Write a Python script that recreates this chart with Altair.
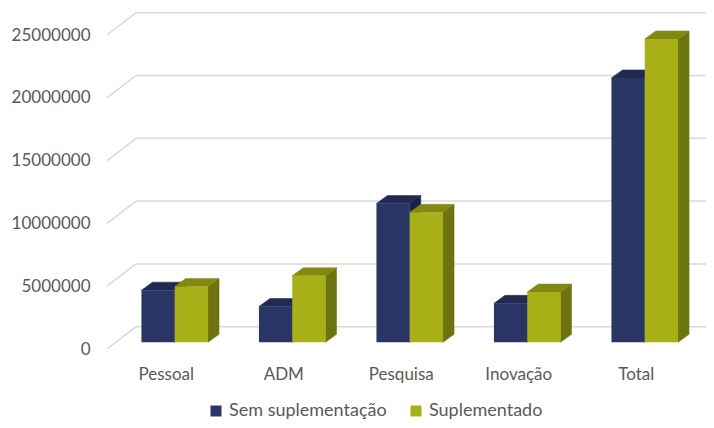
import json
import altair as alt
import pandas as pd

# ---------------- data ----------------
categories = ["Pessoal", "ADM", "Pesquisa", "Inovação", "Total"]
series_names = ["Sem suplementação", "Suplementado"]
sem_suplementacao = [4150000, 2850000, 11050000, 3100000, 21050000]
suplementado = [4450000, 5300000, 10350000, 4000000, 24150000]
y_ticks = [0, 5000000, 10000000, 15000000, 20000000, 25000000]

# ---------------- style / geometry ----------------
NAVY, NAVY_TOP, NAVY_SIDE = "#293565", "#212a52", "#1b2244"
GREEN, GREEN_TOP, GREEN_SIDE = "#a8af17", "#828910", "#6d730e"
GRID = "#d9d9d9"
TXT = "#595959"
FONT = "Lato"

W_PX, H_PX = 587.5, 314
X_MIN, X_MAX = -0.5, 4.5
Y_MAX = 25000000
px_x = W_PX / (X_MAX - X_MIN)
px_y = H_PX / Y_MAX


def dx(px):
    return px / px_x


def dy(px):
    return px / px_y


BAR_W = dx(33.3)
WALL_DX, WALL_DY = dx(29), dy(22.3)
FRONT_DX, FRONT_DY = dx(9), dy(6.7)
DEPTH_DX, DEPTH_DY = dx(11), dy(8)

# ---------------- tables built from the arrays ----------------
fronts, sides, tops = [], [], []
for s, (name, vals) in enumerate(zip(series_names, [sem_suplementacao, suplementado])):
    for i, v in enumerate(vals):
        bid = f"{s}-{i}"
        x0 = i - BAR_W + s * BAR_W + FRONT_DX
        x1 = x0 + BAR_W
        y0 = FRONT_DY
        y1 = v + FRONT_DY
        fronts.append(dict(series=name, cat=categories[i], value=v, x0=x0, x1=x1, y0=y0, y1=y1))
        sides.append(dict(id=bid, s=s, x=x1, ylo=y0, yhi=y1))
        sides.append(dict(id=bid, s=s, x=x1 + DEPTH_DX, ylo=y0 + DEPTH_DY, yhi=y1 + DEPTH_DY))
        tops.append(dict(id=bid, s=s, y=y1, xlo=x0, xhi=x1))
        tops.append(dict(id=bid, s=s, y=y1 + DEPTH_DY, xlo=x0 + DEPTH_DX, xhi=x1 + DEPTH_DX))

fronts = pd.DataFrame(fronts)
sides = pd.DataFrame(sides)
tops = pd.DataFrame(tops)
grid = pd.DataFrame(dict(
    t=y_ticks,
    xf=[X_MIN] * len(y_ticks),
    xb=[X_MIN + WALL_DX] * len(y_ticks),
    xe=[X_MAX + WALL_DX] * len(y_ticks),
    tb=[t + WALL_DY for t in y_ticks],
))

xs = alt.Scale(domain=[X_MIN, X_MAX], nice=False, zero=False)
ys = alt.Scale(domain=[0, Y_MAX], nice=False, zero=False)

label_expr = json.dumps(categories, ensure_ascii=False) + "[datum.value]"

x_axis = alt.Axis(values=[0, 1, 2, 3, 4], labelExpr=label_expr, title=None, domain=False,
                  ticks=False, grid=False, labelFont=FONT, labelFontSize=17, labelColor=TXT,
                  labelPadding=17)
y_axis = alt.Axis(values=y_ticks, format="d", title=None, domain=False, ticks=False, grid=False,
                  labelFont=FONT, labelFontSize=17, labelColor=TXT, labelPadding=17)


def X(field):
    return alt.X(field, scale=xs, axis=x_axis, title=None)


def Y(field):
    return alt.Y(field, scale=ys, axis=y_axis, title=None)


slant = alt.Chart(grid).mark_rule(color=GRID, strokeWidth=1.5).encode(
    x=X("xf:Q"), x2="xb:Q", y=Y("t:Q"), y2="tb:Q",
)
back = alt.Chart(grid).mark_rule(color=GRID, strokeWidth=1.5).encode(
    x=X("xb:Q"), x2="xe:Q", y=Y("tb:Q"),
)


def side_layer(s, color):
    return alt.Chart(sides[sides.s == s]).mark_area(orient="vertical", color=color,
                                                  stroke=color, strokeWidth=0.5).encode(
        x=X("x:Q"), y=Y("ylo:Q"), y2="yhi:Q", detail="id:N",
    )


def top_layer(s, color):
    return alt.Chart(tops[tops.s == s]).mark_area(orient="horizontal", color=color,
                                                 stroke=color, strokeWidth=0.5).encode(
        y=Y("y:Q"), x=X("xlo:Q"), x2="xhi:Q", detail="id:N",
    )


front = alt.Chart(fronts).mark_bar(strokeWidth=0).encode(
    x=X("x0:Q"), x2="x1:Q", y=Y("y0:Q"), y2="y1:Q",
    color=alt.Color("series:N", scale=alt.Scale(domain=series_names, range=[NAVY, GREEN]),
                    legend=alt.Legend(orient="none", legendX=100, legendY=367, direction="horizontal",
                                      title=None, symbolType="square", symbolSize=121,
                                      symbolStrokeWidth=0, labelFont=FONT, labelFontSize=18,
                                      labelColor=TXT, columnPadding=20, labelOffset=4, padding=0)),
)

chart = alt.layer(
    slant, back,
    side_layer(0, NAVY_SIDE), top_layer(0, NAVY_TOP),
    side_layer(1, GREEN_SIDE), top_layer(1, GREEN_TOP),
    front,
).properties(
    width=W_PX, height=H_PX, background="white",
    autosize=alt.AutoSizeParams(type="none"),
    padding={"left": 99, "top": 27, "right": 11.5, "bottom": 71},
).configure_view(stroke=None)

chart.save("out.html", embed_options={"renderer": "svg", "actions": False})
